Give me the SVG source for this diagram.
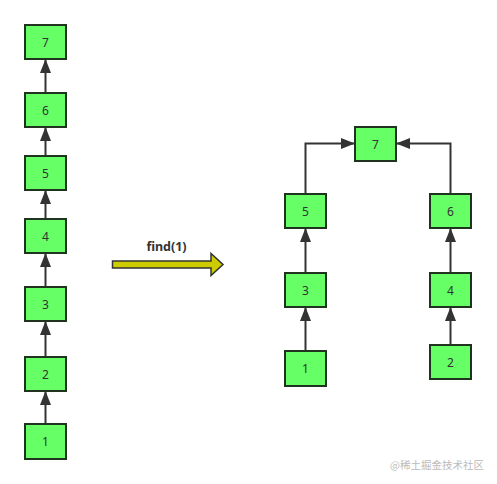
<svg xmlns="http://www.w3.org/2000/svg" width="497" height="484" viewBox="0 0 497 484">
<style>
.n rect{fill:#66FF66;stroke:#1f331f;stroke-width:2}
.n text{font-family:"Noto Sans","Liberation Sans",Arial,sans-serif;font-size:12px;fill:#333;text-anchor:middle;dominant-baseline:central}
.c path{fill:none;stroke:#333;stroke-width:2}
.lbl{font-family:"Noto Sans","Liberation Sans",Arial,sans-serif;font-size:12.5px;font-weight:bold;fill:#333;text-anchor:middle}
.wm{font-family:"Noto Sans CJK SC",sans-serif;font-size:10.5px;fill:#bbb}
</style>
<defs>
<marker id="ah" viewBox="0 0 14 11" refX="14" refY="5.5" markerWidth="14" markerHeight="11" markerUnits="userSpaceOnUse" orient="auto">
<path d="M0,0 L14,5.5 L0,11 Z" fill="#333"/>
</marker>
</defs>
<g class="c" id="connectors">
<path d="M45.5,93 V59" marker-end="url(#ah)"/>
<path d="M45.5,156 V127" marker-end="url(#ah)"/>
<path d="M45.5,219 V190" marker-end="url(#ah)"/>
<path d="M45.5,287 V253" marker-end="url(#ah)"/>
<path d="M45.5,357 V321" marker-end="url(#ah)"/>
<path d="M45.5,424 V391" marker-end="url(#ah)"/>
<path d="M305.5,194 V143.5 H355" marker-end="url(#ah)"/>
<path d="M450.5,194 V143.5 H396" marker-end="url(#ah)"/>
<path d="M305.5,273 V228" marker-end="url(#ah)"/>
<path d="M305.5,351 V307" marker-end="url(#ah)"/>
<path d="M450.5,273 V228" marker-end="url(#ah)"/>
<path d="M450.5,345 V307" marker-end="url(#ah)"/>
</g>
<g id="L7" class="n"><rect x="25" y="25" width="41" height="34"/><text x="45.5" y="42">7</text></g>
<g id="L6" class="n"><rect x="25" y="93" width="41" height="34"/><text x="45.5" y="110">6</text></g>
<g id="L5" class="n"><rect x="25" y="156" width="41" height="34"/><text x="45.5" y="173">5</text></g>
<g id="L4" class="n"><rect x="25" y="219" width="41" height="34"/><text x="45.5" y="236">4</text></g>
<g id="L3" class="n"><rect x="25" y="287" width="41" height="34"/><text x="45.5" y="304">3</text></g>
<g id="L2" class="n"><rect x="25" y="357" width="41" height="34"/><text x="45.5" y="374">2</text></g>
<g id="L1" class="n"><rect x="25" y="424" width="41" height="35"/><text x="45.5" y="441.5">1</text></g>
<g id="find-arrow">
<path d="M112.5,261 H211 V253.5 L223,264.5 L211,275.5 V268 H112.5 Z" fill="#CCCC00" stroke="#333" stroke-width="1.5"/>
<text class="lbl" x="166.5" y="251">find(1)</text>
</g>
<g id="R7" class="n"><rect x="355" y="127" width="41" height="34"/><text x="375.5" y="144">7</text></g>
<g id="R5" class="n"><rect x="285" y="194" width="41" height="34"/><text x="305.5" y="211">5</text></g>
<g id="R6" class="n"><rect x="430" y="194" width="41" height="34"/><text x="450.5" y="211">6</text></g>
<g id="R3" class="n"><rect x="285" y="273" width="41" height="34"/><text x="305.5" y="290">3</text></g>
<g id="R4" class="n"><rect x="430" y="273" width="41" height="34"/><text x="450.5" y="290">4</text></g>
<g id="R1" class="n"><rect x="285" y="351" width="41" height="35"/><text x="305.5" y="368.5">1</text></g>
<g id="R2" class="n"><rect x="430" y="345" width="41" height="34"/><text x="450.5" y="362">2</text></g>
<text class="wm" x="390" y="469">@稀土掘金技术社区</text>
</svg>
